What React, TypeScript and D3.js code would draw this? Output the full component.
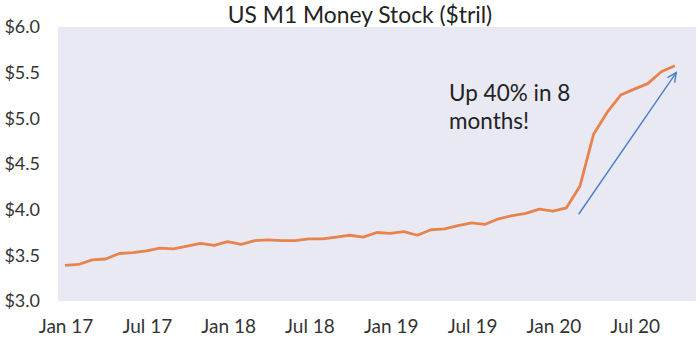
import React from "react";
import * as d3 from "d3";

const months: string[] = [
  "Jan 17","Feb 17","Mar 17","Apr 17","May 17","Jun 17","Jul 17","Aug 17","Sep 17","Oct 17","Nov 17","Dec 17",
  "Jan 18","Feb 18","Mar 18","Apr 18","May 18","Jun 18","Jul 18","Aug 18","Sep 18","Oct 18","Nov 18","Dec 18",
  "Jan 19","Feb 19","Mar 19","Apr 19","May 19","Jun 19","Jul 19","Aug 19","Sep 19","Oct 19","Nov 19","Dec 19",
  "Jan 20","Feb 20","Mar 20","Apr 20","May 20","Jun 20","Jul 20","Aug 20","Sep 20","Oct 20",
];

const m1Values: number[] = [
  3.39, 3.40, 3.45, 3.46, 3.52, 3.53, 3.55, 3.58, 3.57, 3.60, 3.63, 3.61,
  3.65, 3.62, 3.66, 3.67, 3.66, 3.66, 3.68, 3.68, 3.70, 3.72, 3.70, 3.75,
  3.74, 3.76, 3.72, 3.78, 3.79, 3.825, 3.855, 3.84, 3.90, 3.935, 3.96, 4.005,
  3.985, 4.02, 4.26, 4.825, 5.065, 5.255, 5.32, 5.38, 5.51, 5.575,
];

const yTicks: number[] = [3.0, 3.5, 4.0, 4.5, 5.0, 5.5, 6.0];
const xTickLabels: string[] = ["Jan 17", "Jul 17", "Jan 18", "Jul 18", "Jan 19", "Jul 19", "Jan 20", "Jul 20"];

const title = "US M1 Money Stock ($tril)";
const noteLines: string[] = ["Up 40% in 8", "months!"];
// arrow from (Feb 20, 3.95) to (Oct 20, 5.5)
const arrowFrom = { idx: 37.9, val: 3.95 };
const arrowTo = { idx: 45.1, val: 5.5 };

const W = 700;
const H = 338;
const plot = { left: 58, right: 696, top: 27, bottom: 301 };
const FONT = "Lato, 'Open Sans', sans-serif";

export default function App() {
  const x = d3.scaleLinear().domain([-0.52, 46.56]).range([plot.left, plot.right]);
  const y = d3.scaleLinear().domain([3, 6]).range([plot.bottom, plot.top]);

  const line = d3
    .line<number>()
    .x((_, i) => x(i))
    .y((d) => y(d));

  const ax1 = x(arrowFrom.idx), ay1 = y(arrowFrom.val);
  const ax2 = x(arrowTo.idx), ay2 = y(arrowTo.val);
  const ang = Math.atan2(ay2 - ay1, ax2 - ax1);
  const headLen = 10;
  const spread = 0.45;
  const h1 = [ax2 - headLen * Math.cos(ang - spread), ay2 - headLen * Math.sin(ang - spread)];
  const h2 = [ax2 - headLen * Math.cos(ang + spread), ay2 - headLen * Math.sin(ang + spread)];

  return (
    <svg width={W} height={H} style={{ position: "absolute", left: 0, top: 0, background: "#fff" }} fontFamily={FONT}>
      <rect x={plot.left} y={plot.top} width={plot.right - plot.left} height={plot.bottom - plot.top} fill="#e9e9f3" />
      <text x={360} y={23} textAnchor="middle" fontSize={22.8} fill="#222">{title}</text>
      {yTicks.map((t) => (
        <text key={t} x={40} y={y(t)} dy="0.36em" textAnchor="end" fontSize={18} fill="#333">
          {"$" + d3.format(".1f")(t)}
        </text>
      ))}
      {xTickLabels.map((lab) => {
        const i = months.indexOf(lab);
        return (
          <text key={lab} x={x(i) + 1} y={333} textAnchor="middle" fontSize={19} fill="#333">
            {lab}
          </text>
        );
      })}
      <path d={line(m1Values) || ""} fill="none" stroke="#e8834e" strokeWidth={2.8} strokeLinejoin="round" />
      <line x1={ax1} y1={ay1} x2={ax2} y2={ay2} stroke="#4a7fc8" strokeWidth={1.4} />
      <polyline points={`${h1[0]},${h1[1]} ${ax2},${ay2} ${h2[0]},${h2[1]}`} fill="none" stroke="#4a7fc8" strokeWidth={1.4} />
      {noteLines.map((t, k) => (
        <text key={k} x={449} y={100.5 + k * 28} fontSize={22.5} fill="#222">{t}</text>
      ))}
    </svg>
  );
}
